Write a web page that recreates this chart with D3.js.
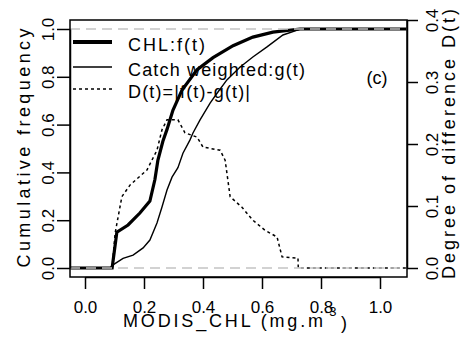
<!DOCTYPE html>
<html>
<head>
<meta charset="utf-8">
<script src="https://cdn.jsdelivr.net/npm/d3@7"></script>
<style>
  body { margin: 0; background: #fff; }
  text { font-family: "Liberation Sans", Arial, sans-serif; fill: #000; }
</style>
</head>
<body>
<div id="chart-area"></div>
<script>
// CHL cumulative frequency f(t)
const fX = [-0.05, 0.092, 0.108, 0.146, 0.186, 0.22, 0.237, 0.247, 0.264, 0.278, 0.298, 0.329, 0.38, 0.434, 0.502, 0.569, 0.637, 0.729, 1.09];
const fY = [0, 0, 0.15, 0.18, 0.23, 0.28, 0.37, 0.45, 0.53, 0.58, 0.66, 0.745, 0.83, 0.88, 0.93, 0.966, 0.987, 1, 1];
// catch weighted g(t)
const gX = [-0.05, 0.085, 0.095, 0.129, 0.163, 0.197, 0.22, 0.244, 0.261, 0.278, 0.295, 0.315, 0.332, 0.356, 0.366, 0.39, 0.424, 0.447, 0.481, 0.525, 0.569, 0.617, 0.671, 0.722, 0.729, 1.09];
const gY = [0, 0, 0.013, 0.04, 0.054, 0.084, 0.117, 0.188, 0.255, 0.326, 0.38, 0.42, 0.48, 0.536, 0.565, 0.62, 0.69, 0.73, 0.787, 0.84, 0.883, 0.925, 0.975, 0.996, 1, 1];
// difference D(t) (right axis)
const dX = [-0.05, 0.092, 0.102, 0.125, 0.153, 0.21, 0.244, 0.261, 0.278, 0.315, 0.339, 0.38, 0.4, 0.458, 0.475, 0.492, 0.532, 0.569, 0.61, 0.651, 0.668, 0.722, 0.723, 1.09];
const dY = [0, 0, 0.056, 0.115, 0.134, 0.158, 0.19, 0.223, 0.239, 0.239, 0.218, 0.211, 0.195, 0.19, 0.174, 0.115, 0.098, 0.077, 0.061, 0.05, 0.018, 0.016, 0, 0];

const xTicks = [0, 0.2, 0.4, 0.6, 0.8, 1.0];
const yTicks = [0, 0.2, 0.4, 0.6, 0.8, 1.0];
const dTicks = [0, 0.1, 0.2, 0.3, 0.4];

const width = 464, height = 345;
const box = {left: 70, top: 20, right: 407, bottom: 277};

const svg = d3.select("#chart-area").append("svg").attr("width", width).attr("height", height);

const xScale = d3.scaleLinear().domain([0, 1]).range([85, 380]);
const yScale = d3.scaleLinear().domain([0, 1]).range([268, 29]);
const dScale = d3.scaleLinear().domain([0, 0.4]).range([268, 20]);

svg.append("clipPath").attr("id", "clip").append("rect")
  .attr("x", box.left).attr("y", box.top)
  .attr("width", box.right - box.left).attr("height", box.bottom - box.top);

const plot = svg.append("g").attr("clip-path", "url(#clip)");

const lineF = d3.line().x(d => xScale(d[0])).y(d => yScale(d[1]));
const lineD = d3.line().x(d => xScale(d[0])).y(d => dScale(d[1]));

plot.append("path").datum(d3.zip(fX, fY)).attr("d", lineF)
  .attr("fill", "none").attr("stroke", "#000").attr("stroke-width", 3.2);
plot.append("path").datum(d3.zip(gX, gY)).attr("d", lineF)
  .attr("fill", "none").attr("stroke", "#000").attr("stroke-width", 1.4);
plot.append("path").datum(d3.zip(dX, dY)).attr("d", lineD)
  .attr("fill", "none").attr("stroke", "#000").attr("stroke-width", 1.5)
  .attr("stroke-dasharray", "3,3");

// grey reference lines at 0 and 1
[0, 1].forEach(v => {
  plot.append("line")
    .attr("x1", box.left).attr("x2", box.right)
    .attr("y1", yScale(v)).attr("y2", yScale(v))
    .attr("stroke", "#c4c4c4").attr("stroke-width", 1.6)
    .attr("stroke-dasharray", "10,6");
});

svg.append("rect")
  .attr("x", box.left).attr("y", box.top)
  .attr("width", box.right - box.left).attr("height", box.bottom - box.top)
  .attr("fill", "none").attr("stroke", "#000").attr("stroke-width", 1.5);

// axes
const xAxis = d3.axisBottom(xScale).tickValues(xTicks).tickSize(12).tickSizeOuter(0).tickFormat(d3.format(".1f"));
const gx = svg.append("g").attr("transform", `translate(0, ${box.bottom})`).call(xAxis);
gx.selectAll("text").attr("y", 36).attr("dy", 0).attr("font-size", 17);

const yAxis = d3.axisLeft(yScale).tickValues(yTicks).tickSize(13).tickSizeOuter(0).tickFormat(d3.format(".1f"));
const gy = svg.append("g").attr("transform", `translate(${box.left}, 0)`).call(yAxis);
gy.selectAll("text").attr("x", 0).attr("y", -16).attr("dy", 0)
  .attr("text-anchor", "middle").attr("transform", "rotate(-90)").attr("font-size", 17);

const dAxis = d3.axisRight(dScale).tickValues(dTicks).tickSize(11).tickSizeOuter(0).tickFormat(d3.format(".1f"));
const gd = svg.append("g").attr("transform", `translate(${box.right}, 0)`).call(dAxis);
gd.selectAll("text").attr("x", 0).attr("y", 31).attr("dy", 0)
  .attr("text-anchor", "middle").attr("transform", "rotate(-90)").attr("font-size", 17);

[gx, gy, gd].forEach(g => {
  g.selectAll("line").attr("stroke", "#000").attr("stroke-width", 1.5);
  g.select(".domain").attr("stroke", "#000").attr("stroke-width", 1.5);
  g.selectAll("text").attr("font-family", null).attr("fill", "#000");
});

// axis titles
svg.append("text")
  .attr("font-size", 18).attr("text-anchor", "middle")
  .attr("transform", "translate(30, 148) rotate(-90)")
  .attr("textLength", 239).attr("lengthAdjust", "spacing")
  .text("Cumulative frequency");

svg.append("text")
  .attr("font-size", 18).attr("text-anchor", "middle")
  .attr("transform", "translate(455, 144) rotate(-90)")
  .attr("textLength", 270).attr("lengthAdjust", "spacing")
  .text("Degree of difference D(t)");

svg.append("text")
  .attr("font-size", 18).attr("x", 123).attr("y", 327)
  .attr("textLength", 200).attr("lengthAdjust", "spacing")
  .text("MODIS_CHL (mg.m");
svg.append("text")
  .attr("font-size", 13).attr("x", 325).attr("y", 316)
  .text("-3");
svg.append("text")
  .attr("font-size", 18).attr("x", 341).attr("y", 329)
  .text(")");

// legend
const legendNames = ["CHL:f(t)", "Catch weighted:g(t)", "D(t)=|f(t)-g(t)|"];
const legendLengths = [77, 177, 122];
const legendWidths = [4, 1.5, 1.5];
const legendDash = [null, null, "3,3"];
const legendY = [42, 67, 89];

legendNames.forEach((name, i) => {
  svg.append("line")
    .attr("x1", 73).attr("x2", 112)
    .attr("y1", legendY[i]).attr("y2", legendY[i])
    .attr("stroke", "#000").attr("stroke-width", legendWidths[i])
    .attr("stroke-dasharray", legendDash[i]);
  svg.append("text")
    .attr("font-size", 18).attr("x", 128).attr("y", legendY[i] + 9)
    .attr("textLength", legendLengths[i]).attr("lengthAdjust", "spacing")
    .text(name);
});

svg.append("text")
  .attr("font-size", 18).attr("x", 377).attr("y", 84).attr("text-anchor", "middle")
  .text("(c)");
</script>
</body>
</html>
